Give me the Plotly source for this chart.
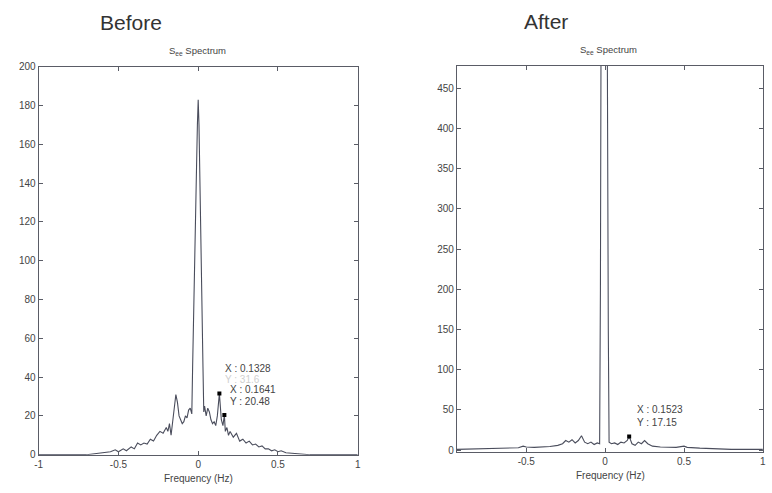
import plotly.graph_objects as go

# Spectrum before filtering
freq_before = [-1.0, -0.7, -0.65, -0.6, -0.55, -0.52, -0.5, -0.47, -0.45, -0.42, -0.4, -0.38,
               -0.36, -0.34, -0.32, -0.3, -0.28, -0.26, -0.24, -0.22, -0.2, -0.19, -0.18, -0.17,
               -0.16, -0.15, -0.14, -0.13, -0.12, -0.11, -0.1, -0.09, -0.08, -0.07, -0.06, -0.05,
               -0.04, -0.035, -0.03, -0.02, -0.01, -0.005, 0.0, 0.005, 0.01, 0.02, 0.03, 0.035,
               0.04, 0.05, 0.06, 0.07, 0.08, 0.09, 0.1, 0.11, 0.12, 0.1328, 0.145, 0.155, 0.1641,
               0.17, 0.18, 0.19, 0.2, 0.22, 0.24, 0.26, 0.28, 0.3, 0.32, 0.34, 0.36, 0.38, 0.4,
               0.42, 0.44, 0.46, 0.48, 0.5, 0.52, 0.55, 0.58, 0.62, 0.65, 0.7, 1.0]
see_before = [0, 0, 0.5, 1, 1.5, 2.5, 1.5, 3, 2, 4, 3, 6,
              5, 6, 5.5, 8, 7, 10, 12, 11, 14, 12, 16, 10,
              18, 24, 31, 27, 20, 18, 16, 17, 20, 19, 23, 24,
              21, 45, 70, 110, 150, 170, 183, 170, 140, 95, 45, 22,
              25, 20, 24, 22, 18, 16, 17, 15, 20, 31.6, 18, 15, 20.48,
              12, 14, 10, 12, 9, 11, 7, 8, 6, 7, 5, 5.5, 4, 4.5,
              3, 3, 2, 2.5, 1.5, 2, 1, 0.8, 0.5, 0.3, 0, 0]

# Spectrum after filtering
freq_after = [-0.94, -0.8, -0.7, -0.6, -0.55, -0.52, -0.5, -0.45, -0.4, -0.35, -0.3, -0.27,
              -0.25, -0.23, -0.21, -0.19, -0.17, -0.15, -0.13, -0.11, -0.09, -0.07, -0.05,
              -0.035, -0.03, -0.025, 0.0, 0.012, 0.02, 0.025, 0.04, 0.06, 0.08, 0.1, 0.12,
              0.14, 0.1523, 0.17, 0.19, 0.21, 0.23, 0.25, 0.27, 0.3, 0.35, 0.4, 0.45, 0.5,
              0.52, 0.6, 0.7, 0.8, 1.0]
see_after = [1, 1.5, 2, 2.5, 3, 5, 4, 3.5, 4, 4.5, 6, 8,
             12, 10, 13, 9, 12, 18, 10, 8, 10, 7, 9,
             8, 200, 600, 900, 600, 150, 10, 8, 9, 7, 10, 9,
             12, 17.15, 8, 6, 10, 8, 12, 8, 5, 4, 4, 3.5, 5,
             3.5, 2.5, 1.5, 1, 1]

# Data tips
tips_before_x = [0.1328, 0.1641]
tips_before_y = [31.6, 20.48]
tips_after_x = [0.1523]
tips_after_y = [17.15]

xticks_before = [-1, -0.5, 0, 0.5, 1]
xticks_after = [-0.5, 0, 0.5, 1]
yticks_before = list(range(0, 201, 20))
yticks_after = list(range(0, 451, 50))

LINE = "#4a4d5c"
AXIS = "#5a5c66"
TEXT = "#444444"
FONT = "Liberation Sans, Arial, sans-serif"

fig = go.Figure()
fig.add_trace(go.Scatter(x=freq_before, y=see_before, mode="lines",
                         line=dict(color=LINE, width=1.1), xaxis="x", yaxis="y",
                         showlegend=False))
fig.add_trace(go.Scatter(x=tips_before_x, y=tips_before_y, mode="markers",
                         marker=dict(color="black", size=4, symbol="square"),
                         xaxis="x", yaxis="y", showlegend=False))
fig.add_trace(go.Scatter(x=freq_after, y=see_after, mode="lines",
                         line=dict(color=LINE, width=1.1), xaxis="x2", yaxis="y2",
                         showlegend=False))
fig.add_trace(go.Scatter(x=tips_after_x, y=tips_after_y, mode="markers",
                         marker=dict(color="black", size=4, symbol="square"),
                         xaxis="x2", yaxis="y2", showlegend=False))

axis_common = dict(showgrid=False, zeroline=False, showline=True, linecolor=AXIS,
                   linewidth=1, mirror="allticks", ticks="inside", ticklen=4,
                   tickcolor=AXIS, tickfont=dict(size=10, color=TEXT, family=FONT))

fig.update_layout(
    width=772, height=493,
    margin=dict(l=0, r=0, t=0, b=0),
    paper_bgcolor="white", plot_bgcolor="white",
    font=dict(family=FONT, color=TEXT),
    xaxis=dict(domain=[0.0453, 0.4624], range=[-1, 1], tickvals=xticks_before,
               ticktext=[str(v) for v in xticks_before], anchor="y", **axis_common),
    yaxis=dict(domain=[0.069, 0.872], range=[0, 200], tickvals=yticks_before,
               anchor="x", **axis_common),
    xaxis2=dict(domain=[0.592, 0.992], range=[-0.94, 1], tickvals=xticks_after,
                ticktext=[str(v) for v in xticks_after], anchor="y2", **axis_common),
    yaxis2=dict(domain=[0.075, 0.874], range=[-2, 478], tickvals=yticks_after,
                anchor="x2", **axis_common),
)

annotations = [
    dict(text="Before", x=128, y=18, font=dict(size=21, color="#333333")),
    dict(text="After", x=547, y=17, font=dict(size=21, color="#333333")),
    dict(text="S<sub>ee</sub> Spectrum", x=195, y=47, font=dict(size=9.5, color=TEXT)),
    dict(text="S<sub>ee</sub> Spectrum", x=610, y=46, font=dict(size=9.5, color=TEXT)),
    dict(text="Frequency (Hz)", x=196, y=483, font=dict(size=10, color=TEXT)),
    dict(text="Frequency (Hz)", x=612, y=480, font=dict(size=10, color=TEXT)),
]
for a in annotations:
    fig.add_annotation(text=a["text"], x=a["x"] / 772, y=1 - a["y"] / 493,
                       xref="paper", yref="paper", showarrow=False,
                       xanchor="center", yanchor="middle", font=a["font"])

# Data-tip labels
tip_labels = [
    ("X : 0.1328", 221, 371, TEXT),
    ("Y : 31.6", 221, 382, "#d0d0d0"),
    ("X : 0.1641", 226, 392, TEXT),
    ("Y : 20.48", 226, 405, TEXT),
    ("X : 0.1523", 637, 413, TEXT),
    ("Y : 17.15", 637, 426, TEXT),
]
for txt, px, py, col in tip_labels:
    fig.add_annotation(text=txt, x=px / 772, y=1 - py / 493, xref="paper", yref="paper",
                       showarrow=False, xanchor="left", yanchor="middle",
                       font=dict(size=10, color=col))

fig.write_html("out.html")
